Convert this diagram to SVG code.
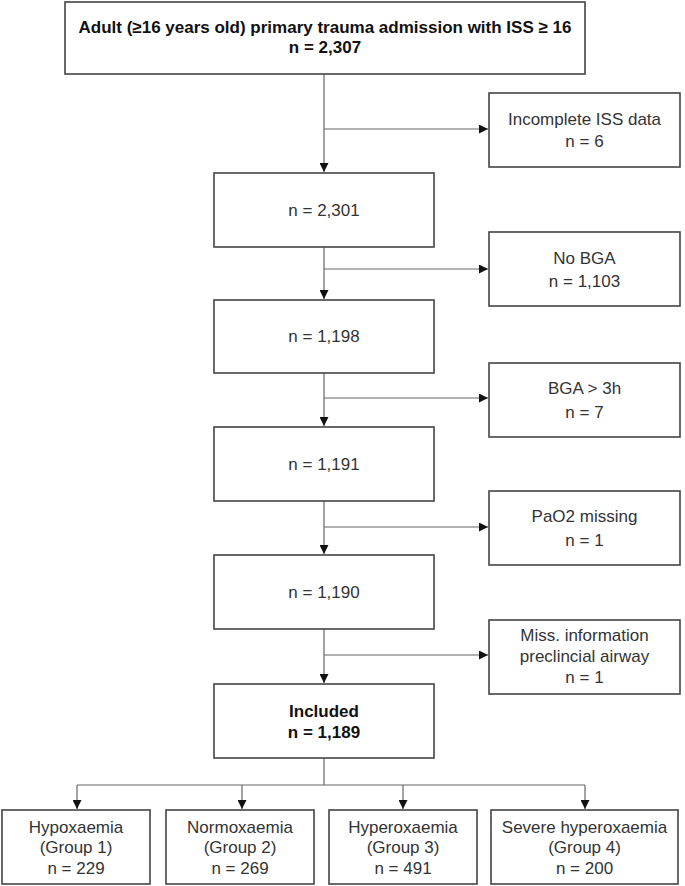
<svg xmlns="http://www.w3.org/2000/svg" width="685" height="886" viewBox="0 0 685 886">
<style>
.box{fill:#fff;stroke:#444;stroke-width:1.6}
.t{font-family:"Liberation Sans",Arial,sans-serif;font-size:17px;fill:#333;text-anchor:middle}
.b{font-weight:bold;fill:#111}
.c{fill:none;stroke:#666;stroke-width:1.2}
</style>
<defs>
<marker id="ah" viewBox="0 0 10 10" refX="10" refY="5" markerWidth="9" markerHeight="9" markerUnits="userSpaceOnUse" orient="auto">
<path d="M0,0 L10,5 L0,10 z" fill="#111"/>
</marker>
</defs>
<rect width="685" height="886" fill="#fff"/>
<g id="connectors">
<path class="c" d="M324,74 V172" marker-end="url(#ah)"/>
<path class="c" d="M324,129 H488" marker-end="url(#ah)"/>
<path class="c" d="M324,247 V299" marker-end="url(#ah)"/>
<path class="c" d="M324,269 H488" marker-end="url(#ah)"/>
<path class="c" d="M324,373 V426" marker-end="url(#ah)"/>
<path class="c" d="M324,398 H488" marker-end="url(#ah)"/>
<path class="c" d="M324,501 V554" marker-end="url(#ah)"/>
<path class="c" d="M324,527 H488" marker-end="url(#ah)"/>
<path class="c" d="M324,629 V683" marker-end="url(#ah)"/>
<path class="c" d="M324,655 H488" marker-end="url(#ah)"/>
<path class="c" d="M324,758 V785 M77,785 H585"/>
<path class="c" d="M77,785 V809" marker-end="url(#ah)"/>
<path class="c" d="M242,785 V809" marker-end="url(#ah)"/>
<path class="c" d="M403,785 V809" marker-end="url(#ah)"/>
<path class="c" d="M585,785 V809" marker-end="url(#ah)"/>
</g>
<g id="n0"><rect class="box" x="65" y="2" width="520" height="72"/>
<text class="t b" x="325" y="33">Adult (≥16 years old) primary trauma admission with ISS ≥ 16</text>
<text class="t b" x="325" y="53">n = 2,307</text></g>
<g id="x1"><rect class="box" x="489" y="93" width="191" height="74"/>
<text class="t" x="584.5" y="125">Incomplete ISS data</text><text class="t" x="584.5" y="147">n = 6</text></g>
<g id="n1"><rect class="box" x="214" y="173" width="220" height="74"/>
<text class="t" x="324" y="216">n = 2,301</text></g>
<g id="x2"><rect class="box" x="489" y="232" width="191" height="74"/>
<text class="t" x="584.5" y="264">No BGA</text><text class="t" x="584.5" y="287">n = 1,103</text></g>
<g id="n2"><rect class="box" x="214" y="300" width="220" height="73"/>
<text class="t" x="324" y="342">n = 1,198</text></g>
<g id="x3"><rect class="box" x="489" y="363" width="191" height="74"/>
<text class="t" x="584.5" y="394">BGA &gt; 3h</text><text class="t" x="584.5" y="418">n = 7</text></g>
<g id="n3"><rect class="box" x="214" y="427" width="220" height="74"/>
<text class="t" x="324" y="470">n = 1,191</text></g>
<g id="x4"><rect class="box" x="489" y="491" width="191" height="74"/>
<text class="t" x="584.5" y="522">PaO2 missing</text><text class="t" x="584.5" y="546">n = 1</text></g>
<g id="n4"><rect class="box" x="214" y="555" width="220" height="74"/>
<text class="t" x="324" y="598">n = 1,190</text></g>
<g id="x5"><rect class="box" x="489" y="620" width="191" height="74"/>
<text class="t" x="584.5" y="641">Miss. information</text><text class="t" x="584.5" y="662">preclincial airway</text><text class="t" x="584.5" y="683">n = 1</text></g>
<g id="n5"><rect class="box" x="214" y="684" width="220" height="74"/>
<text class="t b" x="324" y="717">Included</text><text class="t b" x="324" y="738">n = 1,189</text></g>
<g id="g1"><rect class="box" x="2" y="810" width="148" height="74"/>
<text class="t" x="76" y="833">Hypoxaemia</text><text class="t" x="76" y="853">(Group 1)</text><text class="t" x="76" y="874">n = 229</text></g>
<g id="g2"><rect class="box" x="166" y="810" width="148" height="74"/>
<text class="t" x="240" y="833">Normoxaemia</text><text class="t" x="240" y="853">(Group 2)</text><text class="t" x="240" y="874">n = 269</text></g>
<g id="g3"><rect class="box" x="329" y="810" width="148" height="74"/>
<text class="t" x="403" y="833">Hyperoxaemia</text><text class="t" x="403" y="853">(Group 3)</text><text class="t" x="403" y="874">n = 491</text></g>
<g id="g4"><rect class="box" x="491" y="810" width="187" height="74"/>
<text class="t" x="584.5" y="833">Severe hyperoxaemia</text><text class="t" x="584.5" y="853">(Group 4)</text><text class="t" x="584.5" y="874">n = 200</text></g>
</svg>
